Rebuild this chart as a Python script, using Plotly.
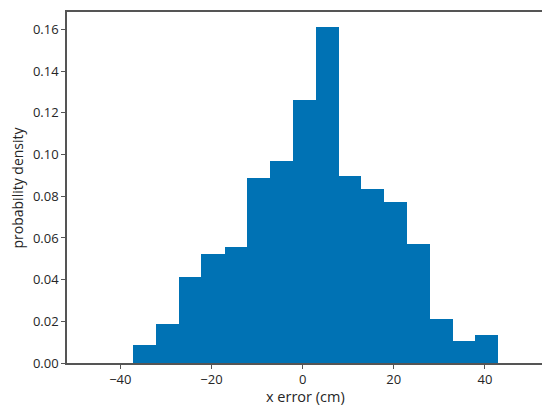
import plotly.graph_objects as go

bin_edges = [-37.2, -32.2, -27.2, -22.2, -17.1, -12.1, -7.1, -2.1, 2.9, 7.9,
             12.8, 17.8, 22.9, 27.9, 32.9, 37.9, 42.95]
density = [0.0087, 0.0187, 0.0411, 0.0521, 0.0556, 0.0890, 0.0968, 0.1262,
           0.1610, 0.0898, 0.0834, 0.0772, 0.0570, 0.0211, 0.0105, 0.0132]
x_ticks = [-40, -20, 0, 20, 40]
y_ticks = [0.00, 0.02, 0.04, 0.06, 0.08, 0.10, 0.12, 0.14, 0.16]
x_title = "x error (cm)"
y_title = "probability density"

centers = [(a + b) / 2 for a, b in zip(bin_edges[:-1], bin_edges[1:])]
widths = [b - a for a, b in zip(bin_edges[:-1], bin_edges[1:])]

FONT = "Open Sans"
TXT = "#262626"

fig = go.Figure(go.Bar(
    x=centers, y=density, width=widths,
    marker=dict(color="#0072B4", line=dict(width=0)),
))

axis_common = dict(
    showline=True, linecolor="#555", linewidth=1.5, mirror=True,
    ticks="outside", ticklen=4, tickcolor="#555", tickwidth=1,
    showgrid=False, zeroline=False,
    tickfont=dict(family=FONT, size=13, color=TXT),
)

fig.update_layout(
    width=550, height=415,
    margin=dict(l=59, r=15, t=2, b=60),
    paper_bgcolor="white", plot_bgcolor="white",
    showlegend=False,
    bargap=0,
    xaxis=dict(range=[-51.7, 52.75], tickvals=x_ticks,
               ticktext=["\u221240", "\u221220", "0", "20", "40"],
               **axis_common),
    yaxis=dict(range=[0, 0.1684], tickvals=y_ticks,
               ticktext=[f"{v:.2f}" for v in y_ticks],
               **axis_common),
    annotations=[
        dict(text=x_title, xref="paper", yref="paper", x=0.5, y=0,
             xanchor="center", yanchor="top", yshift=-23, borderpad=0,
             showarrow=False,
             font=dict(family=FONT, size=14.5, color=TXT)),
        dict(text=y_title, xref="paper", yref="paper", x=0, y=0.5,
             xanchor="center", yanchor="middle", xshift=-50, textangle=-90,
             borderpad=0, showarrow=False,
             font=dict(family=FONT, size=14, color=TXT)),
    ],
)

fig.write_html("out.html")
